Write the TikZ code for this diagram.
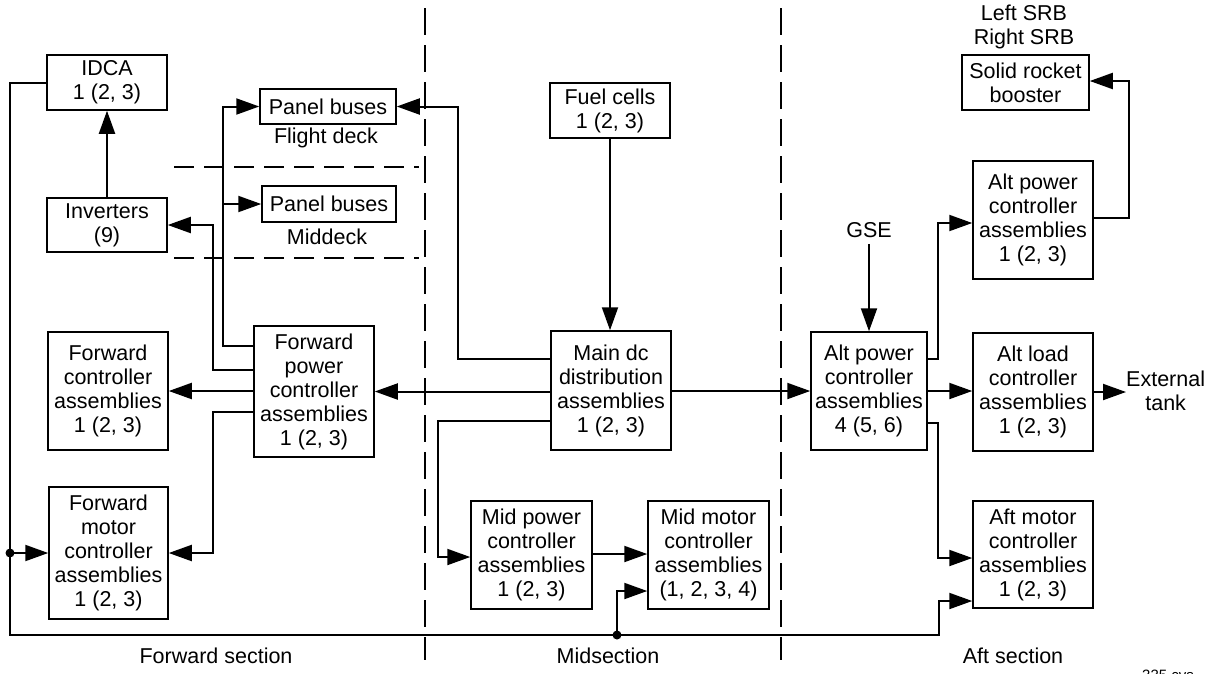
\documentclass[tikz,border=0pt]{standalone}
\usepackage{fontspec}
\setmainfont{Liberation Sans}
\usetikzlibrary{arrows.meta,calc}
\begin{document}
\begin{tikzpicture}[x=1pt,y=-1pt,
  box/.style={draw,line width=1.5pt,rectangle,inner sep=0pt,align=center,font=\fontsize{21.5}{24}\selectfont},
  lbl/.style={inner sep=0pt,align=center,font=\fontsize{21.5}{24}\selectfont},
  wire/.style={line width=2pt},
  arr/.style={wire,-{Triangle[length=23pt,width=16pt]}},
  dot/.style={circle,fill,inner sep=0pt,minimum size=9pt},
  sect/.style={line width=1.5pt,dash pattern=on 27pt off 10pt},
  hsect/.style={line width=1.5pt,dash pattern=on 20pt off 10pt}]
\useasboundingbox (0,0) rectangle (1214,673);
% boxes
\node[box,minimum width=120pt,minimum height=55pt] (idca) at (107,82.5) {IDCA\\1 (2, 3)};
\node[box,minimum width=136pt,minimum height=35pt] (pbf) at (328,106.5) {Panel buses};
\node[box,minimum width=134pt,minimum height=36pt] (pbm) at (329,204) {Panel buses};
\node[box,minimum width=120pt,minimum height=54pt] (inv) at (107,225) {Inverters\\(9)};
\node[box,minimum width=120pt,minimum height=131pt] (fpca) at (314,391.5) {Forward\\power\\controller\\assemblies\\1 (2, 3)};
\node[box,minimum width=120pt,minimum height=118pt] (fca) at (108,391) {Forward\\controller\\assemblies\\1 (2, 3)};
\node[box,minimum width=119pt,minimum height=132pt] (fmca) at (108.5,553) {Forward\\motor\\controller\\assemblies\\1 (2, 3)};
\node[box,minimum width=120pt,minimum height=55pt] (fuel) at (610,110.5) {Fuel cells\\1 (2, 3)};
\node[box,minimum width=120pt,minimum height=119pt] (main) at (611,390.5) {Main dc\\distribution\\assemblies\\1 (2, 3)};
\node[box,minimum width=121pt,minimum height=108pt] (midp) at (531.5,555) {Mid power\\controller\\assemblies\\1 (2, 3)};
\node[box,minimum width=121pt,minimum height=108pt] (midm) at (708.5,555) {Mid motor\\controller\\assemblies\\(1, 2, 3, 4)};
\node[box,minimum width=116pt,minimum height=118pt] (apca) at (869,391) {Alt power\\controller\\assemblies\\4 (5, 6)};
\node[box,minimum width=120pt,minimum height=118pt] (apcb) at (1033,220) {Alt power\\controller\\assemblies\\1 (2, 3)};
\node[box,minimum width=127pt,minimum height=55pt] (srb) at (1025.5,82.5) {Solid rocket\\booster};
\node[box,minimum width=120pt,minimum height=118pt] (alc) at (1033,392) {Alt load\\controller\\assemblies\\1 (2, 3)};
\node[box,minimum width=120pt,minimum height=107pt] (amc) at (1033,554.5) {Aft motor\\controller\\assemblies\\1 (2, 3)};
% labels
\node[lbl] (fd) at (326,138) {Flight deck};
\node[lbl] (md) at (327,237) {Middeck};
\node[lbl] (lrsrb) at (1024,27) {Left SRB\\Right SRB};
\node[lbl] (gse) at (869,230) {GSE};
\node[lbl,anchor=west] (ext) at (1126,391) {External\\tank};
\node[lbl] (fsec) at (216,656) {Forward section};
\node[lbl] (msec) at (608,656) {Midsection};
\node[lbl] (asec) at (1013,656) {Aft section};
\node[lbl,font=\fontsize{15}{16}\selectfont] (cvs) at (1168,675) {335 cvs};
% section dividers
\draw[sect] (425,8) -- (425,660);
\draw[sect] (781,8) -- (781,660);
\draw[hsect] (174,167) -- (419,167);
\draw[hsect] (174,258) -- (419,258);
% dots
\node[dot] (d1) at (10,553) {};
\node[dot] (d2) at (617,635) {};
% connectors
\draw[arr] (inv.north) -- (idca.south);
\draw[wire] (idca.west) -- (10,82.5) -- (d1.center) -- (10,635) -- (d2.center);
\draw[arr] (d2.center) -- (939,635) -- (939,601) -- (amc.west |- 0,601);
\draw[arr] (d1.center) -- (fmca.west);
\draw[arr] (d2.center) -- (617,591) -- (midm.west |- 0,591);
\draw[arr] (fpca.west |- 0,346) -- (223,346) -- (223,106.5) -- (pbf.west);
\draw[arr] (223,204) -- (pbm.west);
\draw[arr] (fpca.west |- 0,370) -- (213,370) -- (213,225) -- (inv.east);
\draw[arr] (fpca.west |- 0,391) -- (fca.east);
\draw[arr] (fpca.west |- 0,412) -- (213,412) -- (213,553) -- (fmca.east);
\draw[arr] (main.west |- 0,391.5) -- (fpca.east);
\draw[arr] (main.west |- 0,359) -- (458,359) -- (458,106.5) -- (pbf.east);
\draw[arr] (main.west |- 0,421) -- (438,421) -- (438,557) -- (midp.west |- 0,557);
\draw[arr] (fuel.south) -- (fuel.south |- main.north);
\draw[arr] (main.east |- 0,391) -- (apca.west);
\draw[arr] (midp.east |- 0,554) -- (midm.west |- 0,554);
\draw[arr] (gse.south) ++(0,6) -- (apca.north);
\draw[arr] (apca.east |- 0,359) -- (938,359) -- (938,223) -- (apcb.west |- 0,223);
\draw[arr] (apcb.east |- 0,218) -- (1129,218) -- (1129,81) -- (srb.east |- 0,81);
\draw[arr] (apca.east) -- (alc.west |- apca.east);
\draw[arr] (alc.east) -- (ext.west |- alc.east);
\draw[arr] (apca.east |- 0,423) -- (938,423) -- (938,558) -- (amc.west |- 0,558);
\end{tikzpicture}
\end{document}
